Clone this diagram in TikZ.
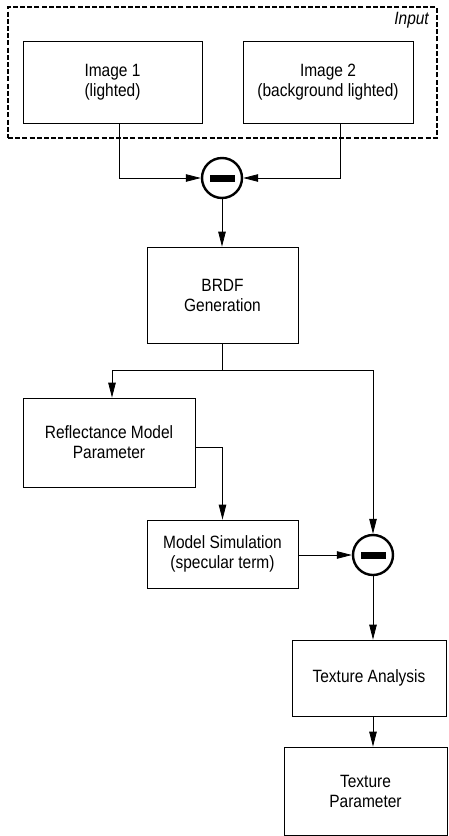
\documentclass[tikz,border=0pt]{standalone}
\usepackage{fontspec}
\setmainfont{Liberation Sans}[FakeStretch=0.87]
\usetikzlibrary{arrows.meta,calc}
\begin{document}
\begin{tikzpicture}[x=1pt,y=-1pt,
  every node/.style={font=\fontsize{17.8}{20}\selectfont},
  box/.style={draw,line width=0.8pt,rectangle,align=center,inner sep=0pt},
  minus/.style={draw,circle,line width=2.4pt,minimum size=40pt,inner sep=0pt,
    path picture={\fill ($(path picture bounding box.center)+(-12.5,-3.5)$) rectangle +(25,7);}},
  arr/.style={line width=0.8pt,-{Triangle[length=15pt,width=7.5pt]}},
  ln/.style={line width=0.8pt}]
\useasboundingbox (0,0) rectangle (448,836);

% input group
\node[draw,dash pattern=on 5pt off 2.2pt,line width=1.3pt,minimum width=429pt,minimum height=131pt] (input) at (222.5,72.5) {};
\node[font=\fontsize{17.8}{20}\selectfont\itshape,anchor=north east,inner sep=0pt] (inlabel) at (429,12) {Input};

\node[box,minimum width=179pt,minimum height=82pt] (img1) at (112.5,82) {Image 1\\(lighted)};
\node[box,minimum width=170pt,minimum height=82pt] (img2) at (328,82) {Image 2\\(background lighted)};

\node[minus] (c1) at (222,178) {};

\node[box,minimum width=151pt,minimum height=96pt] (brdf) at (222.5,295) {BRDF\\Generation};
\coordinate (split) at (222.5,370);

\node[box,minimum width=172pt,minimum height=89pt] (refl) at (109,442.5) {Reflectance Model\\Parameter};
\node[box,minimum width=151pt,minimum height=68pt] (sim) at (222.5,554) {Model Simulation\\(specular term)};

\node[minus] (c2) at (373,555) {};

\node[box,minimum width=154pt,minimum height=76pt] (tex) at (369,678) {Texture Analysis};
\node[box,minimum width=163pt,minimum height=88pt] (par) at (365.5,791) {Texture\\Parameter};

% connectors
\draw[arr] ([xshift=6.5pt]img1.south) |- (c1.west);
\draw[arr] ([xshift=12pt]img2.south) |- (c1.east);
\draw[arr] (c1.south) -- (brdf.north -| c1);
\draw[ln] (brdf.south) -- (split);
\draw[arr] (split) -| ([xshift=3pt]refl.north);
\draw[arr] (split) -| (c2.north);
\draw[arr] ([yshift=-4.5pt]refl.east) -| (sim.north);
\draw[arr] (sim.east |- c2) -- (c2.west);
\draw[arr] (c2.south) -- (c2.south |- tex.north);
\draw[arr] (tex.south -| c2) -- (par.north -| c2);
\end{tikzpicture}
\end{document}
